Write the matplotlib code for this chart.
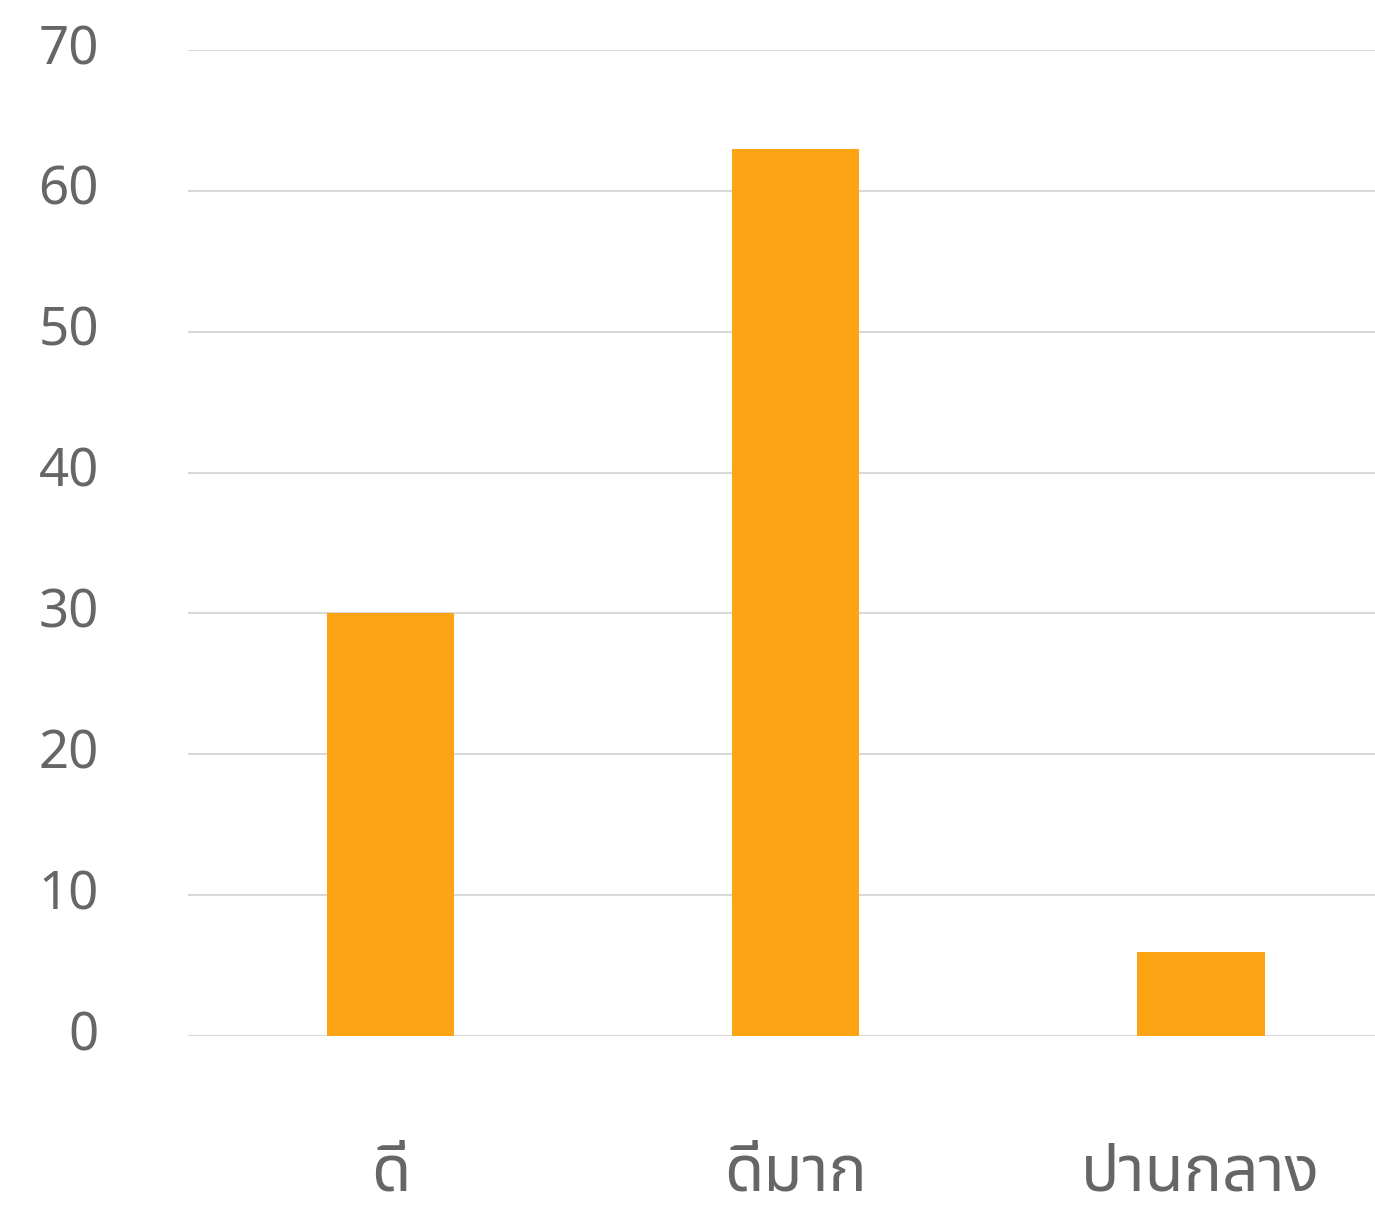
import matplotlib
matplotlib.use("Agg")
import matplotlib.pyplot as plt
from matplotlib.transforms import ScaledTranslation

categories = ["ดี", "ดีมาก", "ปานกลาง"]
values = [30, 63, 6]
yticks = [0, 10, 20, 30, 40, 50, 60, 70]

plt.rcParams["font.family"] = ["Noto Sans Thai", "Noto Sans", "DejaVu Sans"]

fig = plt.figure(figsize=(13.75, 12.05), dpi=100)
ax = fig.add_axes([0.1367, 0.1402, 0.8633, 0.8183])
ax.bar(range(len(categories)), values, width=0.315, color="#FDA414", zorder=2)
ax.set_ylim(0, 70)
ax.set_xlim(-0.5, 2.43)
ax.set_yticks(yticks)
ax.set_xticks(range(len(categories)))
ax.set_xticklabels(categories)
ax.grid(axis="y", color="#D9D9D9", linewidth=1.5, zorder=0)
for s in ax.spines.values():
    s.set_visible(False)
ax.tick_params(axis="y", length=0, pad=64, labelsize=38, labelcolor="#666666")
ax.tick_params(axis="x", length=0, pad=76, labelsize=46, labelcolor="#666666")
# nudge y labels up a little, like the reference
shift = ScaledTranslation(0, 6 / 100, fig.dpi_scale_trans)
for lab in ax.get_yticklabels():
    lab.set_fontweight("light")
    lab.set_transform(lab.get_transform() + shift)
for lab in ax.get_xticklabels():
    lab.set_fontweight("light")
fig.savefig("out.png", dpi=100)
